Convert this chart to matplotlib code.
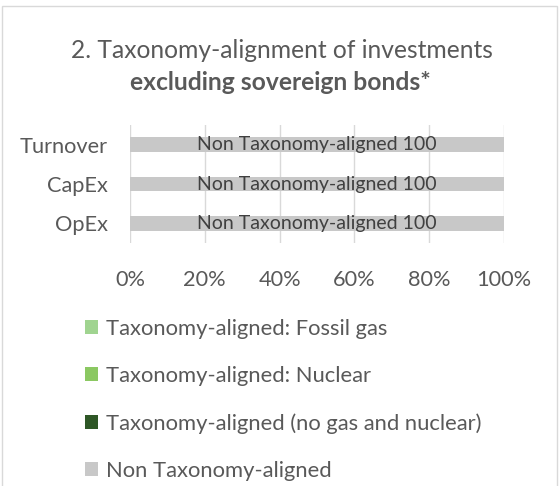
import matplotlib
matplotlib.use("Agg")
import matplotlib.pyplot as plt
from matplotlib.patches import Rectangle
import numpy as np

plt.rcParams['font.family'] = ['Lato', 'DejaVu Sans']

# data
categories = ['Turnover', 'CapEx', 'OpEx']
series_names = ['Taxonomy-aligned: Fossil gas',
                'Taxonomy-aligned: Nuclear',
                'Taxonomy-aligned (no gas and nuclear)',
                'Non Taxonomy-aligned']
fossil_gas = [0, 0, 0]
nuclear = [0, 0, 0]
aligned_other = [0, 0, 0]
non_aligned = [100, 100, 100]
x_ticks = [0, 20, 40, 60, 80, 100]

colors = ['#A0D490', '#8BC862', '#2E5726', '#C8C8C8']
text_color = '#595959'

fig = plt.figure(figsize=(5.6, 4.86), dpi=100)

# chart border (open at bottom, as in the crop)
fig.patches.append(Rectangle((1.5 / 560, -0.05), 555 / 560, 1.05 - 6 / 486,
                             transform=fig.transFigure, fill=False,
                             edgecolor='#D9D9D9', lw=1.0))

ax = fig.add_axes([130 / 560, 1 - 243 / 486, 374 / 560, 118 / 486])

y = np.arange(len(categories))
left = np.zeros(len(categories))
handles = []
for name, vals, col in zip(series_names, [fossil_gas, nuclear, aligned_other, non_aligned], colors):
    vals = np.array(vals, dtype=float)
    bars = ax.barh(y, vals, left=left, height=0.38, color=col, label=name, zorder=2)
    handles.append(bars)
    if vals.sum() > 0:
        labels = [f'{name} {v:g}' if v > 0 else '' for v in vals]
        ax.bar_label(bars, labels=labels, label_type='center', color='#404040', fontsize=14)
    left += vals

ax.set_ylim(len(categories) - 0.5, -0.5)
ax.set_yticks(y)
ax.set_yticklabels(categories)
ax.set_xlim(0, 100)
ax.set_xticks(x_ticks)
ax.set_xticklabels([f'{t}%' for t in x_ticks])
ax.tick_params(axis='both', length=0, labelsize=15.7, colors=text_color)
ax.tick_params(axis='y', pad=16)
ax.tick_params(axis='x', pad=19.5)
ax.grid(axis='x', color='#D9D9D9', lw=1.0, zorder=0)
for s in ax.spines.values():
    s.set_visible(False)

fig.text(282 / 560, 1 - 51 / 486, '2. Taxonomy-alignment of investments',
         ha='center', va='center', fontsize=17.7, color=text_color)
fig.text(280 / 560, 1 - 82 / 486, 'excluding sovereign bonds*',
         ha='center', va='center', fontsize=17.7, fontweight='bold', color=text_color)

leg = fig.legend(handles=handles, labels=series_names, loc='upper left',
                 bbox_to_anchor=(85 / 560, 1 - 319 / 486), frameon=False,
                 borderpad=0, borderaxespad=0,
                 fontsize=15.8, labelcolor=text_color, handlelength=0.6,
                 handleheight=0.6, handletextpad=0.37, labelspacing=1.23)

fig.savefig('out.png', dpi=100)
